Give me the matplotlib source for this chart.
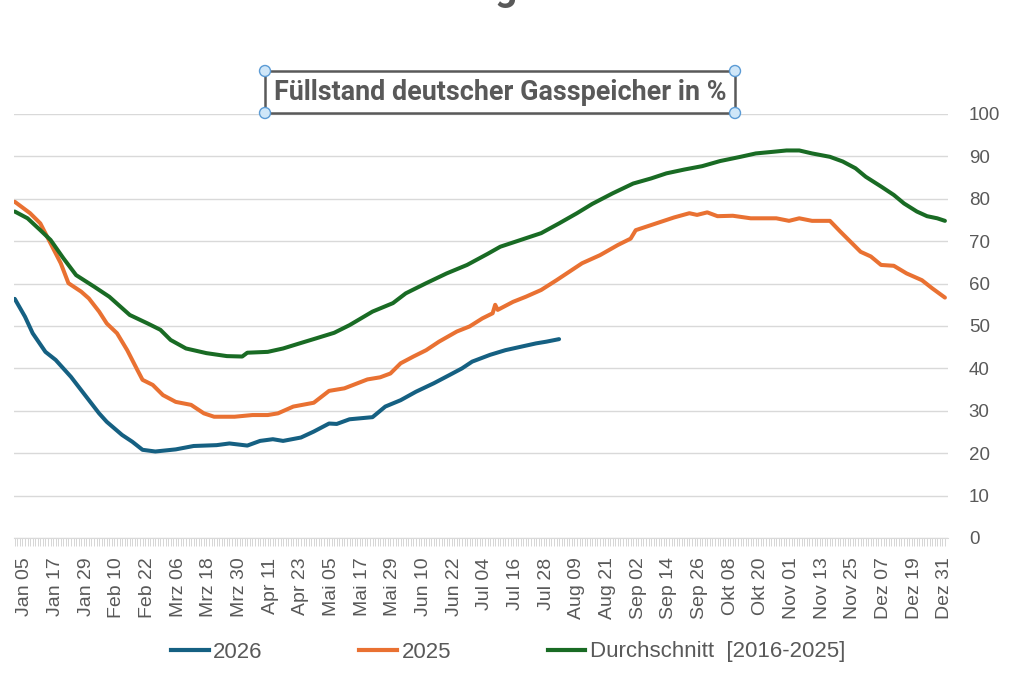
import matplotlib.pyplot as plt
from matplotlib.lines import Line2D
from matplotlib.patches import Circle, Rectangle

# day of year (1 = Jan 01) and filling level in %
days_2026 = [1, 5, 8, 13, 17, 23, 29, 34, 37, 43, 47, 51, 56, 64, 71, 80, 85,
             92, 97, 102, 106, 113, 118, 124, 127, 132, 141, 146, 152, 158,
             165, 171, 176, 180, 187, 193, 199, 205, 209, 214]
level_2026 = [56.4, 52.2, 48.3, 43.9, 42.0, 38.0, 33.3, 29.4, 27.4, 24.3, 22.7,
              20.8, 20.4, 20.9, 21.7, 21.9, 22.3, 21.8, 22.9, 23.3, 22.9, 23.7,
              25.1, 27.0, 26.9, 28.0, 28.5, 31.0, 32.5, 34.5, 36.5, 38.4, 40.0,
              41.6, 43.2, 44.3, 45.1, 45.9, 46.3, 46.9]

days_2025 = [1, 7, 11, 15, 19, 22, 27, 30, 34, 37, 41, 45, 49, 51, 55, 59, 64,
             70, 75, 79, 87, 94, 100, 104, 110, 118, 124, 130, 139, 144, 148,
             152, 157, 162, 167, 174, 179, 184, 188, 189, 190, 196, 201, 207,
             213, 217, 223, 230, 237, 242, 244, 248, 252, 259, 265, 268, 272,
             276, 282, 289, 299, 304, 308, 313, 320, 324, 328, 332, 336, 340,
             345, 350, 353, 356, 360, 365]
level_2025 = [79.3, 76.6, 74.2, 69.5, 64.8, 60.1, 58.1, 56.5, 53.4, 50.6, 48.3,
              44.3, 39.6, 37.3, 36.1, 33.7, 32.1, 31.4, 29.4, 28.6, 28.6, 29.0,
              29.0, 29.4, 31.0, 31.9, 34.7, 35.3, 37.4, 37.9, 38.8, 41.2, 42.8,
              44.3, 46.3, 48.7, 49.9, 51.8, 53.0, 55.0, 53.8, 55.7, 56.9, 58.5,
              60.8, 62.4, 64.8, 66.7, 69.1, 70.6, 72.6, 73.4, 74.2, 75.6, 76.6,
              76.2, 76.8, 75.9, 76.0, 75.4, 75.4, 74.8, 75.4, 74.8, 74.8, 72.3,
              69.9, 67.5, 66.4, 64.4, 64.2, 62.4, 61.6, 60.8, 58.9, 56.7]

days_avg = [1, 6, 11, 15, 20, 25, 32, 38, 46, 53, 58, 62, 68, 76, 84, 90, 92,
            100, 106, 113, 119, 126, 132, 141, 149, 154, 162, 170, 178, 186,
            191, 199, 207, 214, 221, 227, 235, 243, 250, 256, 263, 270, 277,
            285, 291, 298, 303, 308, 313, 320, 325, 330, 334, 340, 345, 349,
            354, 358, 362, 365]
level_avg = [77.0, 75.4, 72.6, 70.3, 66.0, 62.0, 59.3, 56.9, 52.6, 50.6, 49.1,
             46.7, 44.7, 43.6, 42.9, 42.8, 43.7, 43.9, 44.7, 46.0, 47.1, 48.4,
             50.2, 53.4, 55.4, 57.7, 60.1, 62.4, 64.4, 67.0, 68.7, 70.3, 71.9,
             74.2, 76.6, 78.8, 81.3, 83.6, 84.8, 86.0, 86.9, 87.7, 88.9, 89.9,
             90.7, 91.1, 91.4, 91.4, 90.7, 89.9, 88.8, 87.2, 85.2, 82.9, 80.9,
             78.9, 77.0, 75.9, 75.4, 74.8]

tick_days = list(range(5, 366, 12))
tick_labels = ['Jan 05', 'Jan 17', 'Jan 29', 'Feb 10', 'Feb 22', 'Mrz 06',
               'Mrz 18', 'Mrz 30', 'Apr 11', 'Apr 23', 'Mai 05', 'Mai 17',
               'Mai 29', 'Jun 10', 'Jun 22', 'Jul 04', 'Jul 16', 'Jul 28',
               'Aug 09', 'Aug 21', 'Sep 02', 'Sep 14', 'Sep 26', 'Okt 08',
               'Okt 20', 'Nov 01', 'Nov 13', 'Nov 25', 'Dez 07', 'Dez 19',
               'Dez 31']

plt.rcParams['font.family'] = ['Liberation Sans', 'DejaVu Sans']
grey = '#595959'
c_2026 = '#156082'
c_2025 = '#E97132'
c_avg = '#196B24'

fig = plt.figure(figsize=(10.16, 6.84), dpi=100)
ax = fig.add_axes([14 / 1016, 1 - 538 / 684, 934 / 1016, 424 / 684])

ax.plot(days_2026, level_2026, color=c_2026, lw=2.9, solid_capstyle='round')
ax.plot(days_2025, level_2025, color=c_2025, lw=2.9, solid_capstyle='round')
ax.plot(days_avg, level_avg, color=c_avg, lw=2.9, solid_capstyle='round')

ax.set_xlim(0.7, 366.2)
ax.set_ylim(0, 100)
ax.set_yticks(range(0, 101, 10))
ax.yaxis.tick_right()
ax.tick_params(axis='y', length=0, pad=15, labelsize=13.5, labelcolor=grey)
for lab in ax.get_yticklabels():
    lab.set_horizontalalignment('left')
ax.grid(axis='y', color='#D9D9D9', lw=1)
ax.set_axisbelow(True)

ax.set_xticks(tick_days)
ax.set_xticklabels(tick_labels, rotation=90)
ax.set_xticks(range(1, 366), minor=True)
ax.tick_params(axis='x', which='both', length=6, width=0.6, color='#D0D0D0',
               direction='out')
ax.tick_params(axis='x', which='major', pad=8, labelsize=14, labelcolor=grey)

for side in ['top', 'left', 'right']:
    ax.spines[side].set_visible(False)
ax.spines['bottom'].set_color('#D9D9D9')

# title box with selection handles
fig.text(500 / 1016, 1 - 93 / 684, 'Füllstand deutscher Gasspeicher in %',
         ha='center', va='center', fontsize=19.4, fontweight='bold', color=grey,
         family=['Roboto', 'DejaVu Sans'])
fig.patches.append(Rectangle((265 / 1016, 1 - 113 / 684), 470 / 1016, 42 / 684,
                             transform=fig.transFigure, fill=False,
                             edgecolor=grey, lw=1.8))
for hx, hy in [(265, 71), (735, 71), (265, 113), (735, 113)]:
    fig.patches.append(Circle((hx, 684 - hy), 5.5, transform=None,
                              facecolor='#CFE6F8', edgecolor='#5B9BD5', lw=1))

# descender of the cut-off heading above
fig.text(506 / 1016, 1 - 8 / 684, 'g', ha='center', va='bottom',
         fontsize=28, fontweight='bold', color=grey, family='Roboto')

handles = [Line2D([], [], color=c_2026, lw=3),
           Line2D([], [], color=c_2025, lw=3),
           Line2D([], [], color=c_avg, lw=3)]
fig.legend(handles, ['2026', '2025', 'Durchschnitt  [2016-2025]'],
           loc='center', bbox_to_anchor=(508 / 1016, 1 - 652 / 684), ncol=3,
           frameon=False, fontsize=16, labelcolor=grey, handlelength=1.7,
           handletextpad=0.2, columnspacing=4.35)

fig.savefig('out.png', dpi=100)
